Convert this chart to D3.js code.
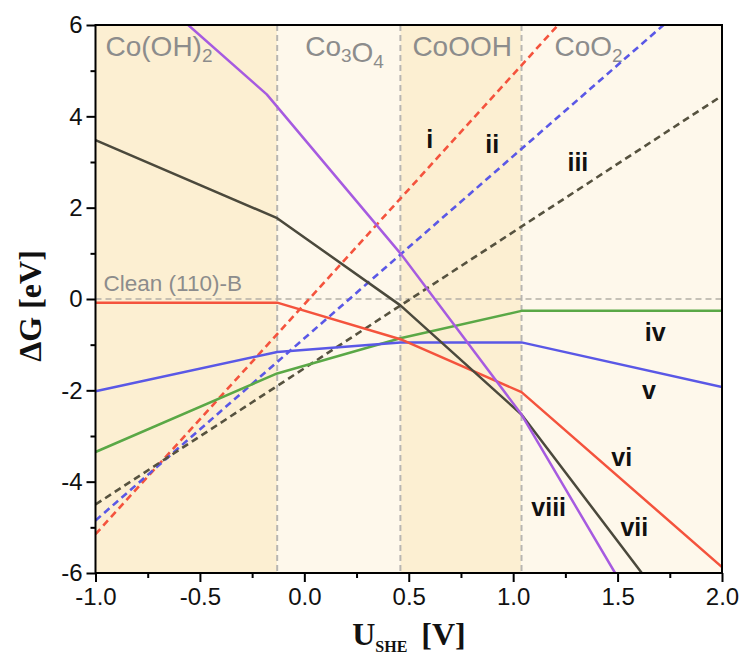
<!DOCTYPE html>
<html>
<head>
<meta charset="utf-8">
<script src="https://cdn.jsdelivr.net/npm/d3@7"></script>
<style>
  html, body { margin: 0; padding: 0; background: #fff; }
  svg { display: block; }
  .tick text { font-family: "Liberation Sans", Arial, sans-serif; }
</style>
</head>
<body>
<svg id="chart" width="740" height="657"></svg>
<script>
// ---- data ----
const phaseBounds = [-1.0, -0.13, 0.46, 1.04, 2.0];
const phaseNames = ["Co(OH)2", "Co3O4", "CoOOH", "CoO2"];

// dashed lines (i, ii, iii)
const lineI_U = [-1.0, 1.215];
const lineI_G = [-5.15, 6.0];
const lineII_U = [-1.0, 1.72];
const lineII_G = [-4.85, 6.0];
const lineIII_U = [-1.0, 2.0];
const lineIII_G = [-4.5, 4.45];

// solid lines (iv .. viii)
const lineIV_U = [-1.0, -0.13, 0.46, 1.04, 2.0];
const lineIV_G = [-3.35, -1.63, -0.86, -0.26, -0.26];
const lineV_U = [-1.0, -0.13, 0.46, 1.04, 2.0];
const lineV_G = [-2.02, -1.16, -0.95, -0.95, -1.93];
const lineVI_U = [-1.0, -0.13, 0.46, 1.04, 2.0];
const lineVI_G = [-0.08, -0.08, -0.88, -2.04, -5.87];
const lineVII_U = [-1.0, -0.13, 0.46, 1.04, 1.616];
const lineVII_G = [3.48, 1.77, -0.14, -2.53, -6.0];
const lineVIII_U = [-0.556, -0.18, 0.46, 1.04, 1.488];
const lineVIII_G = [6.0, 4.48, 1.0, -2.53, -6.0];

const xTicks = [-1.0, -0.5, 0.0, 0.5, 1.0, 1.5, 2.0];
const yTicks = [-6, -4, -2, 0, 2, 4, 6];

// ---- layout ----
const margin = { left: 95.5, top: 25, right: 18, bottom: 84 };
const W = 740, H = 657;
const svg = d3.select("#chart");

const x = d3.scaleLinear().domain([-1, 2]).range([margin.left, W - margin.right]);
const y = d3.scaleLinear().domain([-6, 6]).range([H - margin.bottom, margin.top]);

const colors = {
  red: "#f4533d",
  blue: "#5a58e6",
  dark: "#4b493c",
  green: "#5aa846",
  purple: "#a65be0",
  phaseDark: "#fcefd2",
  phaseLight: "#fef8eb"
};

// phase backgrounds
svg.selectAll("rect.phase")
  .data(d3.range(phaseNames.length))
  .enter()
  .append("rect")
  .attr("class", "phase")
  .attr("x", i => x(phaseBounds[i]))
  .attr("y", y(6))
  .attr("width", i => x(phaseBounds[i + 1]) - x(phaseBounds[i]))
  .attr("height", y(-6) - y(6))
  .attr("fill", i => i % 2 === 0 ? colors.phaseDark : colors.phaseLight);

// phase boundaries
svg.selectAll("line.bound")
  .data(phaseBounds.slice(1, -1))
  .enter()
  .append("line")
  .attr("x1", d => x(d)).attr("x2", d => x(d))
  .attr("y1", y(6)).attr("y2", y(-6))
  .attr("stroke", "#b8b6b2")
  .attr("stroke-width", 2)
  .attr("stroke-dasharray", "6,4");

// clean surface reference
svg.append("line")
  .attr("x1", x(-1)).attr("x2", x(2))
  .attr("y1", y(0)).attr("y2", y(0))
  .attr("stroke", "#b3afa6")
  .attr("stroke-width", 1.6)
  .attr("stroke-dasharray", "6,4");

// phase labels (with subscripts)
const labelFont = "'Liberation Sans', Arial, sans-serif";
function phaseLabel(parts, xPos) {
  const t = svg.append("text")
    .attr("x", xPos).attr("y", 56)
    .attr("font-family", labelFont)
    .attr("font-size", 28)
    .attr("fill", "#8c8c8c");
  parts.forEach(p => {
    if (p.sub) {
      t.append("tspan").attr("font-size", 19).attr("dy", 6).text(p.t);
      t.append("tspan").attr("font-size", 28).attr("dy", -6).text("");
    } else {
      t.append("tspan").text(p.t);
    }
  });
}
phaseLabel([{ t: "Co(OH)" }, { t: "2", sub: true }], x(phaseBounds[0]) + 10);
phaseLabel([{ t: "Co" }, { t: "3", sub: true }, { t: "O" }, { t: "4", sub: true }], x(phaseBounds[1]) + 28);
phaseLabel([{ t: "CoOOH" }], x(phaseBounds[2]) + 12);
phaseLabel([{ t: "CoO" }, { t: "2", sub: true }], x(phaseBounds[3]) + 33);

svg.append("text")
  .attr("x", x(-1) + 8).attr("y", y(0) - 8)
  .attr("font-family", labelFont)
  .attr("font-size", 22.5)
  .attr("fill", "#8c8c8c")
  .text("Clean (110)-B");

// clip for curves
svg.append("clipPath").attr("id", "plotClip")
  .append("rect")
  .attr("x", x(-1)).attr("y", y(6))
  .attr("width", x(2) - x(-1)).attr("height", y(-6) - y(6));

const series = [
  { U: lineI_U, G: lineI_G, color: colors.red, dash: true },
  { U: lineII_U, G: lineII_G, color: colors.blue, dash: true },
  { U: lineIII_U, G: lineIII_G, color: "#56523f", dash: true },
  { U: lineIV_U, G: lineIV_G, color: colors.green },
  { U: lineV_U, G: lineV_G, color: colors.blue },
  { U: lineVI_U, G: lineVI_G, color: colors.red },
  { U: lineVII_U, G: lineVII_G, color: colors.dark },
  { U: lineVIII_U, G: lineVIII_G, color: colors.purple }
];

const line = d3.line().x(d => x(d[0])).y(d => y(d[1]));
const curves = svg.append("g").attr("clip-path", "url(#plotClip)");
curves.selectAll("path")
  .data(series)
  .enter()
  .append("path")
  .attr("d", s => line(s.U.map((u, i) => [u, s.G[i]])))
  .attr("fill", "none")
  .attr("stroke", s => s.color)
  .attr("stroke-width", s => s.dash ? 2.6 : 2.5)
  .attr("stroke-dasharray", s => s.dash ? "7,4.5" : null)
  .attr("stroke-linejoin", "round");

// roman numeral labels
const romanNames = ["i", "ii", "iii", "iv", "v", "vi", "vii", "viii"];
const romanU = [0.6, 0.9, 1.31, 1.68, 1.65, 1.52, 1.58, 1.17];
const romanG = [3.31, 3.2, 2.8, -0.92, -2.2, -3.65, -5.2, -4.75];
svg.selectAll("text.roman")
  .data(romanNames)
  .enter()
  .append("text")
  .attr("class", "roman")
  .attr("x", (d, i) => x(romanU[i]))
  .attr("y", (d, i) => y(romanG[i]))
  .attr("text-anchor", "middle")
  .attr("font-family", labelFont)
  .attr("font-weight", "bold")
  .attr("font-size", 25)
  .attr("fill", "#111")
  .text(d => d);

// axes
const xAxis = svg.append("g")
  .attr("transform", `translate(0,${y(-6)})`)
  .call(d3.axisBottom(x).tickValues(xTicks).tickSize(9).tickPadding(6).tickFormat(d3.format(".1f")));
const xMinor = svg.append("g")
  .attr("transform", `translate(0,${y(-6)})`)
  .call(d3.axisBottom(x).tickValues([-0.75, -0.25, 0.25, 0.75, 1.25, 1.75]).tickSize(5).tickFormat(""));
const yAxis = svg.append("g")
  .attr("transform", `translate(${x(-1)},0)`)
  .call(d3.axisLeft(y).tickValues(yTicks).tickSize(9).tickPadding(4).tickFormat(d3.format("d")));
const yMinor = svg.append("g")
  .attr("transform", `translate(${x(-1)},0)`)
  .call(d3.axisLeft(y).tickValues([-5, -3, -1, 1, 3, 5]).tickSize(5).tickFormat(""));

[xAxis, xMinor, yAxis, yMinor].forEach(g => {
  g.select(".domain").remove();
  g.selectAll(".tick line").attr("stroke", "#000").attr("stroke-width", 2);
  g.selectAll(".tick text")
    .attr("font-size", 24)
    .attr("fill", "#111");
});
yAxis.selectAll(".tick text").text(d => d < 0 ? "-" + Math.abs(d) : d);
xAxis.selectAll(".tick text").text(d => d < 0 ? "-" + Math.abs(d).toFixed(1) : d.toFixed(1));

// frame
svg.append("rect")
  .attr("x", x(-1)).attr("y", y(6))
  .attr("width", x(2) - x(-1)).attr("height", y(-6) - y(6))
  .attr("fill", "none")
  .attr("stroke", "#000")
  .attr("stroke-width", 2);

// axis titles
const serif = "'Liberation Serif', 'Times New Roman', serif";
svg.append("text")
  .attr("transform", `translate(41,306) rotate(-90)`)
  .attr("text-anchor", "middle")
  .attr("font-family", serif)
  .attr("font-weight", "bold")
  .attr("font-size", 32)
  .attr("fill", "#111")
  .text("ΔG [eV]");

const xt = svg.append("text")
  .attr("x", 409).attr("y", 645)
  .attr("text-anchor", "middle")
  .attr("font-family", serif)
  .attr("font-weight", "bold")
  .attr("font-size", 32)
  .attr("fill", "#111");
xt.append("tspan").text("U");
xt.append("tspan").attr("font-size", 16).attr("dy", 7).text("SHE");
xt.append("tspan").attr("dy", -7).attr("dx", 14).text("[V]");
</script>
</body>
</html>
